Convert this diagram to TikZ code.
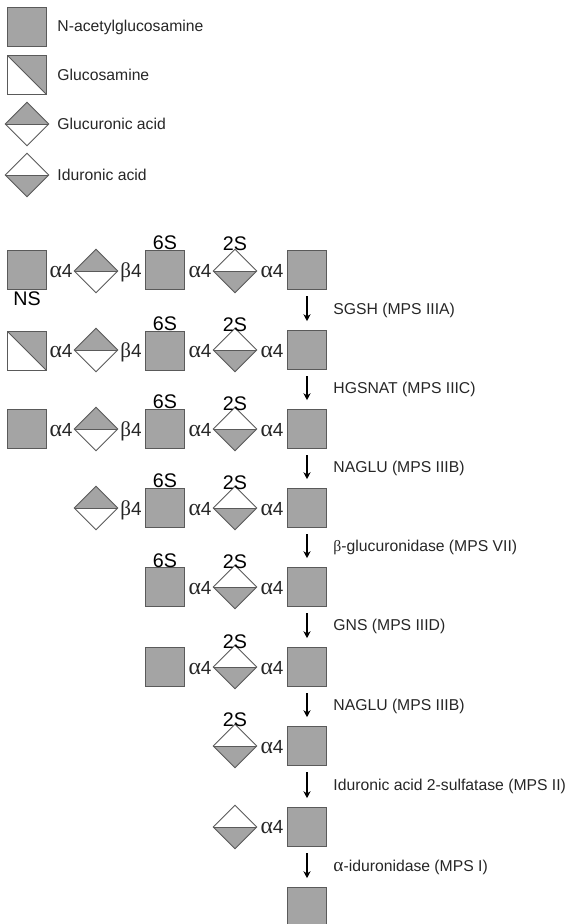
\documentclass[tikz,border=0pt]{standalone}
\usepackage{fontspec}
\setmainfont{Liberation Sans}
\newfontfamily\greekfont{Liberation Serif}
\usetikzlibrary{shapes.geometric, arrows.meta}
\definecolor{sugargray}{HTML}{A4A4A4}
\definecolor{edgegray}{HTML}{5A5A5A}
\tikzset{
	sugarsquare/.style={draw=edgegray, fill=sugargray, minimum size=39*0.02cm, inner sep=0pt}
}
\tikzset{
	halfsquare/.style={draw=edgegray, minimum size=39*0.02cm, inner sep=0pt, path picture={
		\fill[sugargray] (path picture bounding box.north west) -- (path picture bounding box.north east) -- (path picture bounding box.south east) -- cycle;
		\draw[edgegray] (path picture bounding box.north west) -- (path picture bounding box.south east);}}
}
\tikzset{
	glcadiamond/.style={diamond, aspect=1, draw=edgegray, minimum size=44*0.02cm, inner sep=0pt, path picture={
		\fill[sugargray] (path picture bounding box.west) rectangle (path picture bounding box.north east);
		\draw[edgegray] (path picture bounding box.west) -- (path picture bounding box.east);}}
}
\tikzset{
	idoadiamond/.style={diamond, aspect=1, draw=edgegray, minimum size=44*0.02cm, inner sep=0pt, path picture={
		\fill[sugargray] (path picture bounding box.west) rectangle (path picture bounding box.south east);
		\draw[edgegray] (path picture bounding box.west) -- (path picture bounding box.east);}}
}
\tikzset{
	linktext/.style={font=\fontsize{10.8pt}{12pt}\selectfont, inner sep=0pt, text height=7.7pt, text depth=0pt, text=black!85},
	sulfatetext/.style={font=\fontsize{11.2pt}{12pt}\selectfont, inner sep=0pt},
	legendtext/.style={font=\fontsize{8.95pt}{11pt}\selectfont, anchor=west, inner sep=0pt, text=black!85, yshift=-0.7pt}
}
\newcommand{\aFour}{{\greekfont\fontsize{13.5pt}{12pt}\selectfont α}4}
\newcommand{\bFour}{{\greekfont\fontsize{12pt}{12pt}\selectfont β}4}

\begin{document}
\begin{tikzpicture}[x=0.02cm, y=-0.02cm, line width=0.55pt]
      \useasboundingbox (0,0) rectangle (569,924);
      % legend
      \node[sugarsquare] (keynac) at (27,27) {};
      \node[halfsquare] (keygln) at (27,75) {};
      \node[glcadiamond] (keyglc) at (27,124) {};
      \node[idoadiamond] (keyido) at (27,175) {};
      \node[legendtext] (keynactext) at (57,26) {N-acetylglucosamine};
      \node[legendtext] (keyglntext) at (57,74) {Glucosamine};
      \node[legendtext] (keyglctext) at (57,123) {Glucuronic acid};
      \node[legendtext] (keyidotext) at (57,174) {Iduronic acid};
      % row 1
      \node[sugarsquare] (aa) at (27,270) {};
      \node[linktext] (aalink) at (61,271) {\aFour};
      \node[glcadiamond] (ab) at (96,271) {};
      \node[linktext] (ablink) at (131,271) {\bFour};
      \node[sugarsquare] (ac) at (165,270) {};
      \node[linktext] (aclink) at (200,271) {\aFour};
      \node[idoadiamond] (ad) at (235,271) {};
      \node[linktext] (adlink) at (272,271) {\aFour};
      \node[sugarsquare] (ae) at (307,270) {};
      \node[sulfatetext] (ans) at (27,299) {NS};
      \node[sulfatetext] (a6s) at (165,243) {6S};
      \node[sulfatetext] (a2s) at (235,244) {2S};
      % row 2
      \node[halfsquare] (ba) at (27,351) {};
      \node[linktext] (balink) at (61,351) {\aFour};
      \node[glcadiamond] (bb) at (96,350) {};
      \node[linktext] (bblink) at (131,351) {\bFour};
      \node[sugarsquare] (bc) at (165,351) {};
      \node[linktext] (bclink) at (200,351) {\aFour};
      \node[idoadiamond] (bd) at (235,350) {};
      \node[linktext] (bdlink) at (272,351) {\aFour};
      \node[sugarsquare] (be) at (307,350) {};
      \node[sulfatetext] (b6s) at (165,324) {6S};
      \node[sulfatetext] (b2s) at (235,325) {2S};
      % row 3
      \node[sugarsquare] (ca) at (27,429) {};
      \node[linktext] (calink) at (61,430) {\aFour};
      \node[glcadiamond] (cb) at (96,429) {};
      \node[linktext] (cblink) at (131,430) {\bFour};
      \node[sugarsquare] (cc) at (165,429) {};
      \node[linktext] (cclink) at (200,430) {\aFour};
      \node[idoadiamond] (cd) at (235,429) {};
      \node[linktext] (cdlink) at (272,430) {\aFour};
      \node[sugarsquare] (ce) at (307,429) {};
      \node[sulfatetext] (c6s) at (165,402) {6S};
      \node[sulfatetext] (c2s) at (235,404) {2S};
      % row 4
      \node[glcadiamond] (db) at (96,508) {};
      \node[linktext] (dblink) at (131,509) {\bFour};
      \node[sugarsquare] (dc) at (165,508) {};
      \node[linktext] (dclink) at (200,509) {\aFour};
      \node[idoadiamond] (dd) at (235,508) {};
      \node[linktext] (ddlink) at (272,509) {\aFour};
      \node[sugarsquare] (de) at (307,508) {};
      \node[sulfatetext] (d6s) at (165,481) {6S};
      \node[sulfatetext] (d2s) at (235,483) {2S};
      % row 5
      \node[sugarsquare] (ec) at (165,587) {};
      \node[linktext] (eclink) at (200,588) {\aFour};
      \node[idoadiamond] (ed) at (235,587) {};
      \node[linktext] (edlink) at (272,588) {\aFour};
      \node[sugarsquare] (ee) at (307,587) {};
      \node[sulfatetext] (e6s) at (165,561) {6S};
      \node[sulfatetext] (e2s) at (235,562) {2S};
      % row 6
      \node[sugarsquare] (fc) at (165,667) {};
      \node[linktext] (fclink) at (200,668) {\aFour};
      \node[idoadiamond] (fd) at (235,667) {};
      \node[linktext] (fdlink) at (272,668) {\aFour};
      \node[sugarsquare] (fe) at (307,667) {};
      \node[sulfatetext] (f2s) at (235,642) {2S};
      % row 7
      \node[idoadiamond] (gd) at (235,746) {};
      \node[linktext] (gdlink) at (272,747) {\aFour};
      \node[sugarsquare] (ge) at (307,746) {};
      \node[sulfatetext] (g2s) at (235,720) {2S};
      % row 8
      \node[idoadiamond] (hd) at (235,827) {};
      \node[linktext] (hdlink) at (272,827) {\aFour};
      \node[sugarsquare] (he) at (307,827) {};
      % row 9
      \node[sugarsquare] (ie) at (307,907) {};
      % enzymes
      \node[legendtext] (sgsh) at (333,309) {SGSH (MPS IIIA)};
      \node[legendtext] (hgsnat) at (333,388) {HGSNAT (MPS IIIC)};
      \node[legendtext] (naglua) at (333,467) {NAGLU (MPS IIIB)};
      \node[legendtext] (gusb) at (333,546) {{\greekfont β}-glucuronidase (MPS VII)};
      \node[legendtext] (gns) at (333,625) {GNS (MPS IIID)};
      \node[legendtext] (naglub) at (333,705) {NAGLU (MPS IIIB)};
      \node[legendtext] (idsase) at (333,785) {Iduronic acid 2-sulfatase (MPS II)};
      \node[legendtext] (idua) at (333,866) {{\greekfont\fontsize{11pt}{11pt}\selectfont α}-iduronidase (MPS I)};
      % steps
      \foreach \from/\to in {ae/be, be/ce, ce/de, de/ee, ee/fe, fe/ge, ge/he, he/ie}
        \draw[-{Stealth[length=4pt, width=4pt]}, line width=0.8pt, shorten <=3.5pt, shorten >=5pt] (\from) -- (\to);
    \end{tikzpicture}
\end{document}
